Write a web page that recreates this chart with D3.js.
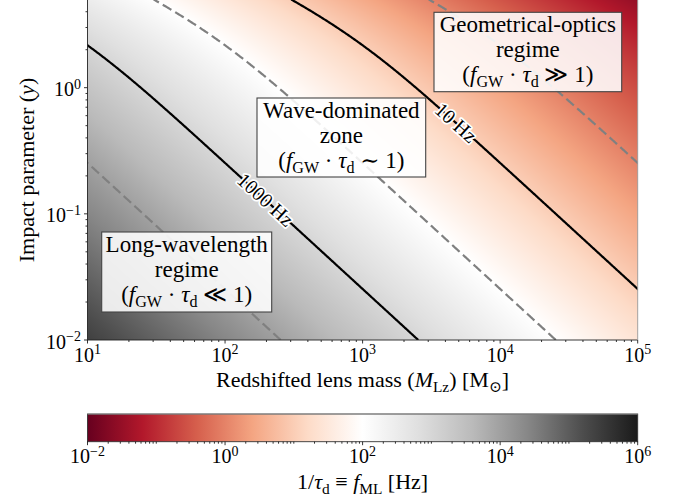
<!DOCTYPE html>
<html><head><meta charset="utf-8">
<script src="https://cdn.jsdelivr.net/npm/d3@7"></script>
<style>
body{margin:0;background:#fff}
</style></head><body>
<svg id="chart" width="681" height="499" font-family="'Liberation Serif', 'DejaVu Serif', 'Times New Roman', serif"></svg>
<script>
// ---------------- data ----------------
const massDomain = [10, 1e5];          // redshifted lens mass [Msun]
const impactDomain = [0.01, 5];        // impact parameter y
const freqDomain = [1e-2, 1e6];        // colour range, 1/tau_d [Hz]
const tauUnit = 1.97e-5;               // 4 G Msun / c^3  [s]
const solidLevels = [1000, 10];        // labelled contours [Hz]
const solidLabels = ["1000 Hz", "10 Hz"];
const labelImpact = [0.129, 0.527];    // impact parameter where each label sits
const dashedLevels = [1e4, 1e2, 1e0];  // dashed contours [Hz]
const xTicks = [1e1, 1e2, 1e3, 1e4, 1e5];
const xTickExp = ["1", "2", "3", "4", "5"];
const yTicks = [1e-2, 1e-1, 1e0];
const yTickExp = ["\u22122", "\u22121", "0"];
const cbTicks = [1e-2, 1e0, 1e2, 1e4, 1e6];
const cbTickExp = ["\u22122", "0", "2", "4", "6"];
const rdgy = ["#67001f","#b2182b","#d6604d","#f4a582","#fddbc7","#ffffff",
              "#e0e0e0","#bababa","#878787","#4d4d4d","#1a1a1a"];
const regimeLines = [
  ["Long-wavelength", "regime", "\u226a"],
  ["Wave-dominated", "zone", "\u223c"],
  ["Geometrical-optics", "regime", "\u226b"]
];

// ---------------- helpers ----------------
function delayFactor(y) {           // point-mass lens time-delay factor
  const s = Math.sqrt(y * y + 4);
  return y * s / 2 + Math.log((s + y) / (s - y));
}
function massAt(freq, y) { return 1 / (freq * tauUnit * delayFactor(y)); }

const FONT = "'Liberation Serif', 'DejaVu Serif', 'Times New Roman', serif";
function rich(sel, parts, fs) {
  let shift = 0;
  parts.forEach(([txt, kind]) => {
    const ts = sel.append("tspan").text(txt);
    let target = 0, size = fs, style = "normal";
    if (kind === "i") style = "italic";
    if (kind === "sub") { target = fs * 0.22; size = fs * 0.7; }
    if (kind === "sup") { target = -fs * 0.36; size = fs * 0.7; }
    ts.attr("font-size", size).attr("font-style", style).attr("font-family", FONT);
    if (target !== shift) { ts.attr("dy", target - shift); shift = target; }
  });
}
function txt(parent) { return parent.append("text").attr("font-family", FONT).attr("fill", "#000"); }

const svg = d3.select("#chart");
const L = 87.5, R = 637.7, T = 0, B = 340;
const x = d3.scaleLog().domain(massDomain).range([L, R]);
const y = d3.scaleLog().domain(impactDomain).range([B, -0.5]);
const tScale = d3.scaleLog().domain(freqDomain).range([0, 1]).clamp(true);
const cmap = d3.scaleLinear().domain(rdgy.map((_, i) => i / (rdgy.length - 1))).range(rdgy);

// ---------------- heat map ----------------
const W = Math.round(R - L), H = B - T;
const canvas = document.createElement("canvas");
canvas.width = W; canvas.height = H;
const ctx = canvas.getContext("2d");
const img = ctx.createImageData(W, H);
for (let j = 0; j < H; j++) {
  const yy = y.invert(T + j + 0.5);
  for (let i = 0; i < W; i++) {
    const M = x.invert(L + (i + 0.5) * (R - L) / W);
    const f = 1 / (tauUnit * M * delayFactor(yy));
    const c = d3.rgb(cmap(tScale(f)));
    const k = 4 * (j * W + i);
    img.data[k] = c.r; img.data[k + 1] = c.g; img.data[k + 2] = c.b; img.data[k + 3] = 255;
  }
}
ctx.putImageData(img, 0, 0);
svg.append("image").attr("x", L).attr("y", T).attr("width", R - L).attr("height", H)
  .attr("preserveAspectRatio", "none").attr("href", canvas.toDataURL());

svg.append("clipPath").attr("id", "plotclip").append("rect")
  .attr("x", L).attr("y", T).attr("width", R - L).attr("height", B - T);

// ---------------- contours ----------------
const ySamples = d3.range(0, 401).map(i => impactDomain[0] * Math.pow(impactDomain[1] / impactDomain[0], i / 400));
const line = d3.line().x(d => x(d[0])).y(d => y(d[1]));
const g = svg.append("g").attr("clip-path", "url(#plotclip)");
dashedLevels.forEach(f => {
  g.append("path").datum(ySamples.map(v => [massAt(f, v), v]))
    .attr("d", line).attr("fill", "none").attr("stroke", "#808080")
    .attr("stroke-width", 2.2).attr("stroke-dasharray", "10,4.5");
});
solidLevels.forEach(f => {
  g.append("path").datum(ySamples.map(v => [massAt(f, v), v]))
    .attr("d", line).attr("fill", "none").attr("stroke", "#000").attr("stroke-width", 2.2);
});
solidLevels.forEach((f, i) => {
  const yl = labelImpact[i];
  const px = x(massAt(f, yl)), py = y(yl);
  const p1 = [x(massAt(f, yl * 1.05)), y(yl * 1.05)], p0 = [x(massAt(f, yl / 1.05)), y(yl / 1.05)];
  const ang = Math.atan2(p1[1] - p0[1], p1[0] - p0[0]) * 180 / Math.PI + 180;
  txt(svg).attr("transform", `translate(${px},${py}) rotate(${ang})`)
    .attr("text-anchor", "middle").attr("dy", "0.33em").attr("font-size", 20)
    .style("stroke", "#fff").style("stroke-width", 3.6).style("paint-order", "stroke")
    .style("stroke-linejoin", "round").text(solidLabels[i]);
});

// ---------------- regime boxes ----------------
const boxes = [
  {x: 101.7, y: 232, w: 170, h: 80},
  {x: 257, y: 98, w: 168.7, h: 79},
  {x: 434, y: 12.3, w: 187.7, h: 79.4}
];
boxes.forEach((b, i) => {
  svg.append("rect").attr("x", b.x).attr("y", b.y).attr("width", b.w).attr("height", b.h)
    .attr("fill", "#fff").attr("fill-opacity", 0.88).attr("stroke", "#444").attr("stroke-width", 1.1);
  const cx = b.x + b.w / 2, fs = 23;
  const [l1, l2, op] = regimeLines[i];
  txt(svg).attr("x", cx).attr("y", b.y + 20).attr("text-anchor", "middle").attr("font-size", fs).text(l1);
  txt(svg).attr("x", cx).attr("y", b.y + 45).attr("text-anchor", "middle").attr("font-size", fs).text(l2);
  const t3 = txt(svg).attr("x", cx).attr("y", b.y + 70).attr("text-anchor", "middle").attr("font-size", fs);
  rich(t3, [["(", "r"], ["f", "i"], ["GW", "sub"], [" \u00b7 ", "r"], ["\u03c4", "i"], ["d", "sub"], [" " + op + " 1)", "r"]], fs);
});

// ---------------- axes ----------------
const minorX = [], minorY = [], minorC = [];
for (let e = 1; e < 5; e++) for (let m = 2; m < 10; m++) minorX.push(m * Math.pow(10, e));
for (let e = -2; e < 1; e++) for (let m = 2; m < 10; m++) { const v = m * Math.pow(10, e); if (v <= impactDomain[1]) minorY.push(v); }
for (let e = -2; e < 6; e++) for (let m = 1; m < 10; m++) { const v = m * Math.pow(10, e); if (!(m === 1 && e % 2 === 0)) minorC.push(v); }

const axes = svg.append("g").attr("stroke", "#000").attr("stroke-width", 0.8);
xTicks.forEach(v => axes.append("line").attr("x1", x(v)).attr("x2", x(v)).attr("y1", B).attr("y2", B + 3.5));
minorX.forEach(v => axes.append("line").attr("x1", x(v)).attr("x2", x(v)).attr("y1", B).attr("y2", B + 2));
yTicks.forEach(v => axes.append("line").attr("x1", L).attr("x2", L - 3.5).attr("y1", y(v)).attr("y2", y(v)));
minorY.forEach(v => axes.append("line").attr("x1", L).attr("x2", L - 2).attr("y1", y(v)).attr("y2", y(v)));
svg.append("line").attr("x1", L).attr("x2", L).attr("y1", T).attr("y2", B).attr("stroke", "#222").attr("stroke-width", 0.9);
svg.append("line").attr("x1", L).attr("x2", R).attr("y1", B).attr("y2", B).attr("stroke", "#222").attr("stroke-width", 0.9);
svg.append("line").attr("x1", R).attr("x2", R).attr("y1", T).attr("y2", B).attr("stroke", "#999").attr("stroke-width", 0.9);

xTicks.forEach((v, i) => {
  const t = txt(svg).attr("x", x(v)).attr("y", 361.5).attr("text-anchor", "middle").attr("font-size", 20);
  rich(t, [["10", "r"], [xTickExp[i], "sup"]], 20);
});
yTicks.forEach((v, i) => {
  const t = txt(svg).attr("x", 81).attr("y", y(v) + 8.5).attr("text-anchor", "end").attr("font-size", 20);
  rich(t, [["10", "r"], [yTickExp[i], "sup"]], 20);
});
const xl = txt(svg).attr("x", (L + R) / 2).attr("y", 387).attr("text-anchor", "middle").attr("font-size", 22);
rich(xl, [["Redshifted lens mass (", "r"], ["M", "i"], ["Lz", "sub"], [") [M", "r"], ["\u2299", "sub"], ["]", "r"]], 22);
const ylab = txt(svg).attr("transform", `translate(33.5,${(T + B) / 2}) rotate(-90)`).attr("text-anchor", "middle").attr("font-size", 22);
rich(ylab, [["Impact parameter (", "r"], ["y", "i"], [")", "r"]], 22);

// ---------------- colour bar ----------------
const cbT = 414, cbB = 441.7;
const cx = d3.scaleLog().domain(freqDomain).range([L, R]);
const grad = svg.append("defs").append("linearGradient").attr("id", "cbgrad");
rdgy.forEach((c, i) => grad.append("stop").attr("offset", i / (rdgy.length - 1)).attr("stop-color", c));
svg.append("rect").attr("x", L).attr("y", cbT).attr("width", R - L).attr("height", cbB - cbT)
  .attr("fill", "url(#cbgrad)").attr("stroke", "#333").attr("stroke-width", 0.9);
svg.append("line").attr("x1", L).attr("x2", R).attr("y1", cbT).attr("y2", cbT).attr("stroke", "#999").attr("stroke-width", 1);
const cba = svg.append("g").attr("stroke", "#000").attr("stroke-width", 0.8);
cbTicks.forEach(v => cba.append("line").attr("x1", cx(v)).attr("x2", cx(v)).attr("y1", cbB).attr("y2", cbB + 3.5));
minorC.forEach(v => cba.append("line").attr("x1", cx(v)).attr("x2", cx(v)).attr("y1", cbB).attr("y2", cbB + 2));
cbTicks.forEach((v, i) => {
  const t = txt(svg).attr("x", cx(v)).attr("y", 463).attr("text-anchor", "middle").attr("font-size", 20);
  rich(t, [["10", "r"], [cbTickExp[i], "sup"]], 20);
});
const cl = txt(svg).attr("x", (L + R) / 2).attr("y", 489).attr("text-anchor", "middle").attr("font-size", 22);
rich(cl, [["1/", "r"], ["\u03c4", "i"], ["d", "sub"], [" \u2261 ", "r"], ["f", "i"], ["ML", "sub"], [" [Hz]", "r"]], 22);
</script>
</body></html>
